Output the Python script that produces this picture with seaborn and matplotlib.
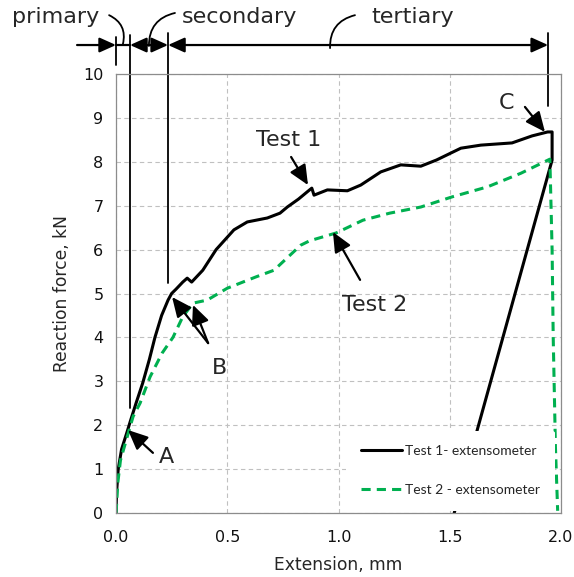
import numpy as np
import matplotlib
matplotlib.use("Agg")
import matplotlib.pyplot as plt
import seaborn as sns

# Test 1 (black, solid) - extensometer reading
t1_ext = [0.0, 0.003, 0.01, 0.025, 0.05, 0.065, 0.09, 0.12, 0.15, 0.175, 0.205, 0.234,
          0.25, 0.27, 0.30, 0.32, 0.34, 0.39, 0.45, 0.53, 0.59, 0.68, 0.737, 0.77, 0.82,
          0.87, 0.88, 0.89, 0.95, 1.04, 1.10, 1.19, 1.28, 1.37, 1.44, 1.55, 1.64, 1.78,
          1.87, 1.94, 1.96, 1.96, 1.52]
t1_force = [0.0, 0.5, 1.0, 1.45, 1.85, 2.1, 2.5, 2.96, 3.5, 4.0, 4.5, 4.85,
            5.0, 5.1, 5.26, 5.35, 5.26, 5.53, 6.0, 6.45, 6.63, 6.72, 6.83, 6.97, 7.15,
            7.36, 7.4, 7.24, 7.36, 7.34, 7.47, 7.77, 7.93, 7.9, 8.04, 8.31, 8.38, 8.43,
            8.59, 8.68, 8.68, 8.04, 0.0]

# Test 2 (green, dashed)
t2_ext = [0.0, 0.002, 0.008, 0.02, 0.05, 0.077, 0.108, 0.153, 0.207, 0.256, 0.30, 0.346,
          0.364, 0.41, 0.50, 0.59, 0.63, 0.71, 0.83, 0.87, 0.99, 1.11, 1.23, 1.37, 1.51,
          1.67, 1.82, 1.95, 1.96, 1.965, 1.975, 1.985]
t2_force = [0.0, 0.14, 0.68, 1.2, 1.73, 2.2, 2.5, 3.1, 3.64, 4.0, 4.47, 4.78,
            4.8, 4.85, 5.12, 5.3, 5.38, 5.53, 6.1, 6.2, 6.38, 6.67, 6.83, 6.97, 7.2,
            7.43, 7.74, 8.06, 6.0, 4.0, 1.5, 0.05]

series_labels = ["Test 1- extensometer", "Test 2 - extensometer"]
x_ticks = [0.0, 0.5, 1.0, 1.5, 2.0]
y_ticks = list(range(0, 11))

sns.set_style("white")
plt.rcParams['font.family'] = ['DejaVu Sans']

fig = plt.figure(figsize=(5.74, 5.77), dpi=100)
ax = fig.add_axes([116 / 574, 64 / 577, 445 / 574, 439 / 577])

sns.lineplot(x=t1_ext, y=t1_force, sort=False, estimator=None, color="black",
             lw=2.2, label=series_labels[0], ax=ax)
sns.lineplot(x=t2_ext, y=t2_force, sort=False, estimator=None, color="#00B050",
             lw=2.2, linestyle=(0, (3, 2)), label=series_labels[1], ax=ax)

ax.set_xlim(0, 2.0)
ax.set_ylim(0, 10)
ax.set_xticks(x_ticks)
ax.set_xticklabels([f"{v:.1f}" for v in x_ticks])
ax.set_yticks(y_ticks)
ax.set_xticks(np.arange(0, 2.01, 0.1), minor=True)
ax.set_yticks(np.arange(0, 10.01, 0.2), minor=True)
ax.tick_params(which="both", direction="in", length=3.5, color="#808080", width=0.8)
ax.tick_params(which="major", labelsize=11.5, labelcolor="#111111")
ax.tick_params(axis="x", which="major", pad=12.5)
ax.tick_params(axis="y", which="major", pad=9)
ax.grid(True, which="major", linestyle=(0, (4, 3)), color="#c0c0c0", lw=0.8)
ax.set_axisbelow(True)
for s in ax.spines.values():
    s.set_color("#8c8c8c")
    s.set_linewidth(0.9)

ax.set_xlabel("Extension, mm", fontsize=12.3, labelpad=8)
ax.set_ylabel("Reaction force, kN", fontsize=12.3, labelpad=9)

leg = ax.legend(loc="lower left", bbox_to_anchor=(0.517, 0.005), borderaxespad=0,
                frameon=True, facecolor="white", edgecolor="none", framealpha=1,
                prop={"family": "Lato", "size": 10}, handlelength=3.0,
                handletextpad=0.2, labelspacing=1.95, borderpad=1.05)
leg.set_zorder(5)

# text annotations with arrows pointing at the curves
head = dict(arrowstyle="-|>,head_length=1.0,head_width=0.45", color="black",
            lw=1.6, mutation_scale=12, shrinkA=0, shrinkB=0)
ax.text(0.776, 8.5, "Test 1", fontsize=16, ha="center", va="center")
ax.annotate("", xy=(0.863, 7.47), xytext=(0.787, 8.11), arrowprops=head)
ax.text(1.164, 4.74, "Test 2", fontsize=16, ha="center", va="center")
ax.annotate("", xy=(0.975, 6.4), xytext=(1.097, 5.31), arrowprops=head)
ax.text(0.225, 1.28, "A", fontsize=16, ha="center", va="center")
ax.annotate("", xy=(0.054, 1.89), xytext=(0.166, 1.37), arrowprops=head)
ax.text(0.463, 3.3, "B", fontsize=16, ha="center", va="center")
ax.annotate("", xy=(0.252, 4.92), xytext=(0.414, 3.87), arrowprops=head)
ax.annotate("", xy=(0.346, 4.74), xytext=(0.414, 3.87), arrowprops=head)
ax.text(1.757, 9.34, "C", fontsize=16, ha="center", va="center")
ax.annotate("", xy=(1.928, 8.68), xytext=(1.838, 9.25), arrowprops=head)

# stage markers above the plot: primary / secondary / tertiary
row = 10.66
for xv, top, bot in [(0.0, 10.84, 10.2), (0.063, 10.88, 2.39),
                     (0.234, 10.93, 5.24), (1.942, 10.93, 9.27)]:
    ax.plot([xv, xv], [bot, top], color="black", lw=1.3, clip_on=False)

dim = dict(color="black", lw=1.6, mutation_scale=10, shrinkA=0, shrinkB=0)
hs = "head_length=1.0,head_width=0.45"
ax.annotate("", xy=(0.0, row), xytext=(-0.175, row), annotation_clip=False,
            arrowprops=dict(arrowstyle="-|>," + hs, **dim))
ax.plot([0.0, 0.063], [row, row], color="black", lw=1.6, clip_on=False)
ax.annotate("", xy=(0.063, row), xytext=(0.148, row), annotation_clip=False,
            arrowprops=dict(arrowstyle="-|>," + hs, **dim))
ax.annotate("", xy=(0.234, row), xytext=(0.148, row), annotation_clip=False,
            arrowprops=dict(arrowstyle="-|>," + hs, **dim))
ax.annotate("", xy=(1.942, row), xytext=(0.234, row), annotation_clip=False,
            arrowprops=dict(arrowstyle="<|-|>," + hs, **dim))

ax.text(-0.27, 11.3, "primary", fontsize=16, ha="center", va="center", clip_on=False)
ax.text(0.557, 11.3, "secondary", fontsize=16, ha="center", va="center", clip_on=False)
ax.text(1.335, 11.3, "tertiary", fontsize=16, ha="center", va="center", clip_on=False)

lead = dict(arrowstyle="-", color="black", lw=1.3, shrinkA=0, shrinkB=0)
ax.annotate("", xy=(0.031, 10.68), xytext=(-0.031, 11.34), annotation_clip=False,
            arrowprops=dict(connectionstyle="arc3,rad=-0.4", **lead))
ax.annotate("", xy=(0.148, 10.64), xytext=(0.265, 11.39), annotation_clip=False,
            arrowprops=dict(connectionstyle="arc3,rad=0.4", **lead))
ax.annotate("", xy=(0.962, 10.59), xytext=(1.074, 11.34), annotation_clip=False,
            arrowprops=dict(connectionstyle="arc3,rad=0.4", **lead))

fig.savefig("out.png", dpi=100)
